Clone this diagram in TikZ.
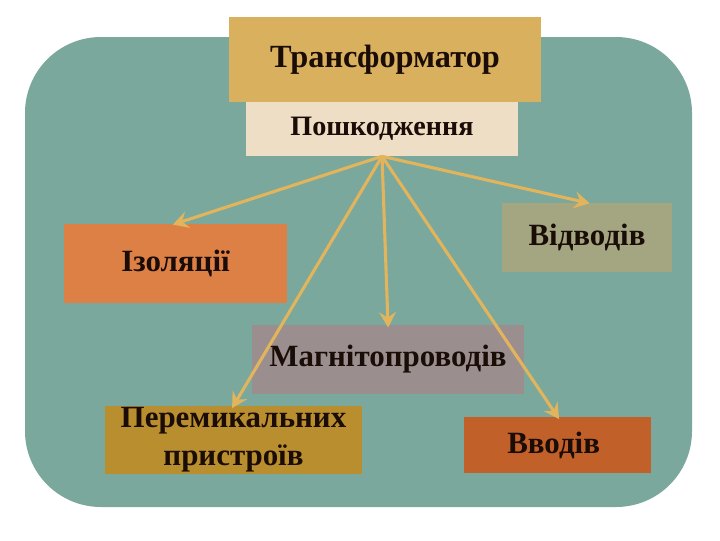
\documentclass[tikz,border=0pt]{standalone}
\usepackage{fontspec}
\setmainfont{Liberation Serif}
\usetikzlibrary{arrows.meta,positioning}

\definecolor{bgteal}{HTML}{7BA89C}
\definecolor{trafofill}{HTML}{D9B15E}
\definecolor{dmgfill}{HTML}{EFDEC6}
\definecolor{isofill}{HTML}{DC8046}
\definecolor{vidfill}{HTML}{A3A680}
\definecolor{magfill}{HTML}{9B8E8E}
\definecolor{perfill}{HTML}{B98E2E}
\definecolor{vvofill}{HTML}{C2602A}
\definecolor{arrowgold}{HTML}{E2B45C}
\definecolor{inktext}{HTML}{1A0C06}

\begin{document}
\begin{tikzpicture}[
    x=0.025cm, y=-0.025cm,
    box/.style={rectangle, inner sep=0pt, align=center, text=inktext,
        font=\fontsize{22}{26}\selectfont\bfseries},
    link/.style={draw=arrowgold, line width=2.2pt, shorten >=-2pt,
        -{Stealth[length=11pt, width=12pt, inset=4pt]}}
]
% Frame (720 x 540 px, y down)
\useasboundingbox[fill=white] (0,0) rectangle (720,540);
\fill[bgteal, rounded corners=1.9cm] (25,37) rectangle (692,507);

% Header boxes
\node[box, fill=trafofill, minimum width=78mm, minimum height=21.25mm,
    font=\fontsize{23}{27}\selectfont\bfseries] (trafo) at (385,59.5) {Трансформатор};
\node[box, fill=dmgfill, minimum width=68mm, minimum height=13.5mm,
    font=\fontsize{20}{24}\selectfont\bfseries] (dmg) at (382,129) {Пошкодження};

% Kinds of damage: name/x/y/width/height/colour/text
\foreach \name/\x/\y/\w/\h/\col/\txt in {
    iso/175.5/263.5/55.75/19.75/isofill/Ізоляції,
    vid/587/237.5/42.5/17.25/vidfill/Відводів,
    mag/388/359.5/68/17.25/magfill/Магнітопроводів,
    per/233.5/440/64.25/17/perfill/{Перемикальних\\[1pt]пристроїв},
    vvo/557.5/445/46.75/14/vvofill/Вводів
} {
    \node[box, fill=\col, minimum width=\w mm, minimum height=\h mm] (\name) at (\x,\y) {\txt};
}

% Arrows from the damage box
\foreach \target in {iso,vid,mag,per,vvo}
    \draw[link] (dmg.south) -- (\target.north);
\end{tikzpicture}
\end{document}
